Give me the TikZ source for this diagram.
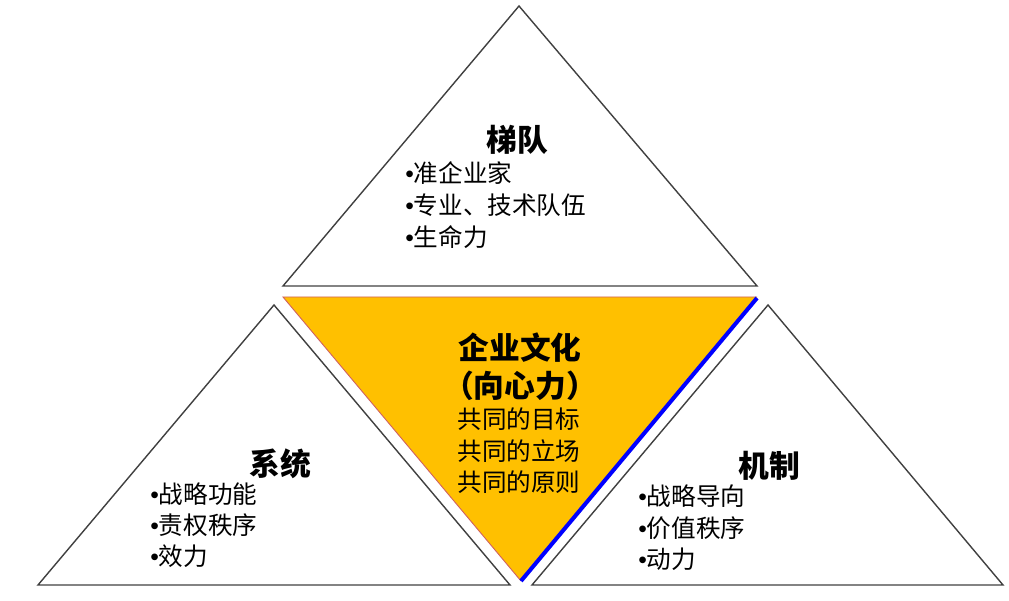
\documentclass[tikz,border=0pt]{standalone}
\usepackage{fontspec}
\setmainfont{Noto Sans CJK SC}
\newfontfamily\xifont{Liberation Sans}
\usetikzlibrary{arrows,shapes}
\definecolor{juhuang}{HTML}{FFC000}
\definecolor{xianhui}{HTML}{404040}
\definecolor{hongbian}{HTML}{D06060}
\newcommand{\dian}{{\xifont •}}
\tikzset{
  sanjiao/.style={draw=xianhui,line width=0.8pt,line join=miter},
  biaoti/.style={inner sep=0pt,font=\bfseries\fontsize{17.5}{20}\selectfont},
  tiaomu/.style={anchor=west,inner sep=0pt,text height=0.8em,text depth=0.2em,font=\fontsize{14}{17}\selectfont},
  zhongxin/.style={inner sep=0pt,text height=0.8em,text depth=0.2em,font=\fontsize{14}{17}\selectfont}
}

\begin{document}
\begin{tikzpicture}[x=0.02cm,y=-0.02cm]
\useasboundingbox (0,0) rectangle (1009,601);
% center
\fill[juhuang] (283,297)--(757,297)--(521,581)--cycle;
\draw[hongbian,line width=0.5pt] (521,581)--(283,297)--(757,297);
\draw[blue,line width=2.3pt] (757,298)--(521,581);
% three triangles
\draw[sanjiao] (519,6)--(757,286)--(283,286)--cycle;
\draw[sanjiao] (274,305)--(510,585)--(38,585)--cycle;
\draw[sanjiao] (768,305)--(1003,585)--(532,585)--cycle;
% top
\node[biaoti] (tidui) at (517,140) {梯队};
\node[tiaomu] (tidui1) at (405,177) {\dian 准企业家};
\node[tiaomu] (tidui2) at (405,209) {\dian 专业、技术队伍};
\node[tiaomu] (tidui3) at (405,241) {\dian 生命力};
% left
\node[biaoti] (xitong) at (280,464) {系统};
\node[tiaomu] (xitong1) at (150,498) {\dian 战略功能};
\node[tiaomu] (xitong2) at (150,529) {\dian 责权秩序};
\node[tiaomu] (xitong3) at (150,560) {\dian 效力};
% right
\node[biaoti] (jizhi) at (769,466) {机制};
\node[tiaomu] (jizhi1) at (638,500) {\dian 战略导向};
\node[tiaomu] (jizhi2) at (638,532) {\dian 价值秩序};
\node[tiaomu] (jizhi3) at (638,563) {\dian 动力};
% middle
\node[biaoti] (wenhua) at (520,348) {企业文化};
\node[biaoti] (xinli) at (520,386) {（向心力）};
\node[zhongxin] (mubiao) at (519,423) {共同的目标};
\node[zhongxin] (lichang) at (519,455) {共同的立场};
\node[zhongxin] (yuanze) at (519,486) {共同的原则};
\end{tikzpicture}
\end{document}
